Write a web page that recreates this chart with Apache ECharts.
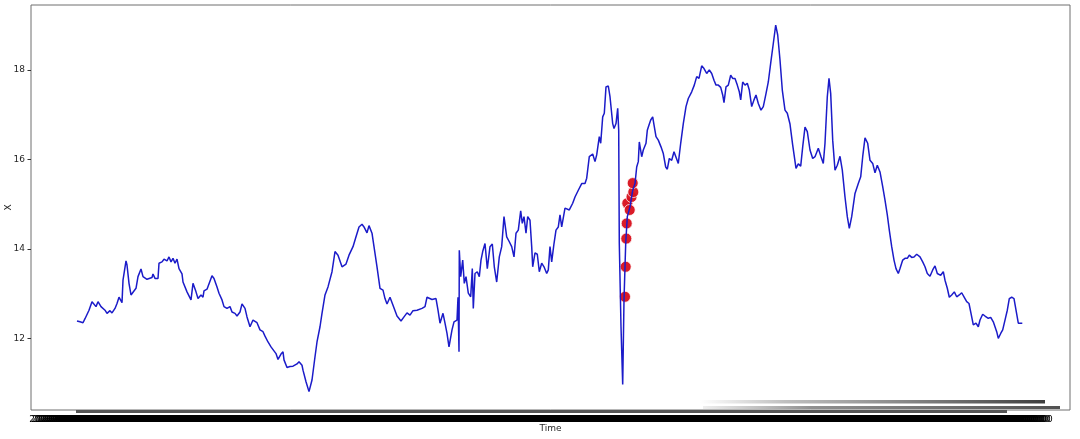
<!DOCTYPE html>
<html>
<head>
<meta charset="utf-8">
<script src="https://cdn.jsdelivr.net/npm/echarts@6/dist/echarts.min.js"></script>
<style>
html,body{margin:0;padding:0;background:#fff;}
#chart{width:1080px;height:439px;}
</style>
</head>
<body>
<div id="chart"></div>
<script>
// Time index (days from start) and X value
const lineSeries = [
[0,12.39],[3,12.37],[6,12.35],[8,12.44],[10,12.42],[12,12.63],[15,12.82],[17,12.78],[19,12.71],[21,12.82],[24,12.71],[26,12.74],[28,12.63],[30,12.56],[33,12.62],[35,12.57],[38,12.67],[40,12.78],[42,12.92],[45,12.80],[46,13.30],[49,13.73],[50,13.64],[52,13.23],[54,12.97],[56,13.01],[59,13.12],[61,13.38],[64,13.55],[66,13.38],[70,13.32],[72,13.29],[75,13.36],[76,13.44],[78,13.34],[81,13.34],[82,13.68],[85,13.71],[87,13.77],[90,13.73],[92,13.82],[94,13.71],[96,13.79],[98,13.68],[100,13.77],[102,13.56],[105,13.44],[106,13.26],[108,13.30],[110,13.04],[112,13.01],[114,12.86],[116,13.23],[119,13.04],[121,12.89],[124,12.97],[126,12.92],[127,13.06],[130,13.10],[132,13.14],[135,13.40],[137,13.34],[140,13.15],[142,13.01],[145,12.86],[147,12.71],[150,12.67],[153,12.71],[155,12.59],[158,12.56],[160,12.50],[163,12.59],[165,12.77],[168,12.67],[170,12.48],[173,12.26],[176,12.41],[178,12.42],[180,12.35],[183,12.19],[186,12.15],[188,12.05],[191,11.92],[194,11.81],[196,11.81],[199,11.66],[201,11.53],[204,11.65],[206,11.70],[207,11.52],[210,11.35],[213,11.37],[216,11.38],[220,11.43],[222,11.48],[225,11.40],[226,11.29],[229,11.03],[232,10.81],[235,11.07],[238,11.59],[240,11.92],[243,12.26],
[245,12.56],[248,12.97],[251,13.15],[255,13.49],[258,13.94],[261,13.86],[265,13.60],[269,13.66],[272,13.86],[276,14.05],[279,14.27],[282,14.49],[285,14.55],[287,14.49],[290,14.36],[292,14.52],[295,14.35],[297,14.05],[300,13.60],[303,13.12],[306,13.08],[308,12.89],[310,12.77],[313,12.92],[316,12.74],[320,12.50],[324,12.39],[327,12.48],[330,12.57],[333,12.52],[336,12.62],[340,12.63],[345,12.67],[348,12.71],[350,12.92],[355,12.87],[359,12.89],[361,12.63],[363,12.34],[366,12.56],[368,12.34],[370,12.11],[372,11.81],[375,12.19],[377,12.37],[380,12.41],[381,12.92],[382,11.70],[382.3,13.97],[383.7,13.38],[385.7,13.75],[387.3,13.23],[389,13.38],[391.3,13.01],[393.7,12.93],[395.3,13.56],[396.3,12.67],[398,13.45],[400.3,13.49],[402.3,13.38],[404,13.75],[405.7,13.94],[408,14.12],[410.3,13.56],[413,14.05],[415.3,14.11],[417.3,13.60],[419.7,13.26],[422.3,13.82],[424.7,14.05],[427,14.72],[429.7,14.27],[432.3,14.16],[434.7,14.05],[437,13.82],[439,14.35],[441.3,14.42],[443.7,14.85],[445.3,14.57],[447,14.72],[449,14.35],[450.7,14.72],[453,14.64],[454.7,14.05],[455.7,13.60],[458,13.91],[460.3,13.88],[462.3,13.49],[464.7,13.68],[467,13.60],[469.7,13.45],[471.3,13.53],[473,14.05],[474.7,13.71],[477,14.12],[479,14.42],[481.3,14.49],[483,14.76],
[484.7,14.49],[488,14.91],[492.3,14.87],[495.7,15.02],[498,15.16],[501.3,15.31],[504.7,15.46],[508,15.46],[509.7,15.58],[512.3,16.06],[515.7,16.12],[518,15.95],[519.7,16.10],[522.3,16.51],[523.7,16.36],[525.7,16.95],[527.3,17.03],[529,17.62],[531.3,17.64],[533,17.40],[535.7,16.80],[537,16.69],[539,16.80],[540.7,17.14],[541.7,16.65],[542.3,14.12],[544,12.26],[545.7,10.97],[547,12.86],[548.7,14.12],[550.3,14.72],[553,14.94],[555.7,15.31],[558,15.46],[559.7,15.83],[561.3,15.95],[562.3,16.39],[564.7,16.06],[566.3,16.21],[569,16.36],[570.3,16.65],[572,16.77],[573.7,16.88],[575.7,16.95],[577,16.77],[579,16.51],[581.3,16.43],[584,16.28],[586.3,16.13],[588.7,15.83],[590.3,15.78],[592.3,16.02],[594.7,15.98],[597,16.17],[599,16.21],[601.3,15.91],[603.7,16.36],[606.3,16.80],[609,17.18],[611.3,17.36],[614.7,17.51],[617.3,17.66],[619.7,17.85],[622,17.81],[624.7,18.09],[627,18.03],[629.7,17.92],[632.3,18.00],[634.7,17.92],[637,17.77],[639,17.66],[641.3,17.66],[643.7,17.61],[645.7,17.44],[647,17.27],[649,17.62],[651.3,17.66],[653.7,17.88],[655.7,17.81],[658,17.81],[660.3,17.66],[662.3,17.51],[663.7,17.33],[665.7,17.73],[668,17.66],[670.3,17.70],[672.3,17.55],[674.7,17.18],[677,17.33],[679,17.44],[681.3,17.25],[684,17.10],[686.3,17.18],[689,17.47],[691.3,17.73],[693.7,18.15],[696.3,18.59],[698.7,19.00],[700.7,18.78],[703,18.22],[705.3,17.55],[708,17.10],[710.3,17.03],[713,16.79],[715.7,16.32],[719,15.80],[721.3,15.90],[723.7,15.85],[725.7,16.28],[728,16.72],[730.3,16.62],[733,16.21],[735.7,16.02],[738,16.06],[741.3,16.25],[744,16.06],[746.3,15.91],[748,16.36],[750.3,17.40],[752,17.81],[753.7,17.47],[755.7,16.43],[758,15.76],[760.3,15.87],[763,16.07],[765.3,15.76],[768,15.16],[770.3,14.72],[772.3,14.46],[774.7,14.72],[778,15.24],[781.3,15.46],[783.7,15.61],[785.7,16.06],[788,16.48],[790.7,16.36],[793,15.98],[795.7,15.91],[798,15.70],[800.3,15.87],[803,15.72],[805.7,15.39],[808,15.09],[810.3,14.76],[812.3,14.42],[814.7,14.05],[817,13.75],[819,13.56],[821.3,13.45],[823,13.56],[825.7,13.75],[828,13.79],[830.3,13.79],[832.3,13.86],[834.7,13.81],[837,13.82],[839.7,13.88],[843,13.82],[845.7,13.71],[848,13.60],[850.3,13.45],[853,13.39],[855.7,13.53],[858,13.62],[860.3,13.45],[863.7,13.41],[866.3,13.49],[868,13.30],[870.3,13.12],[872.3,12.92],[874.7,12.97],[877.3,13.04],[879.7,12.93],[882.3,12.97],[884.7,13.02],[887,12.93],[889.7,12.82],[892,12.78],[894,12.56],[896.3,12.30],[899,12.34],[901.3,12.26],[903,12.41],[905.7,12.54],[908,12.50],[911.3,12.45],[913.7,12.47],[916.3,12.37],[918,12.26],[919.7,12.15],[921.3,12.00],[923.7,12.11],[925.7,12.19],[928,12.41],[930.3,12.63],[932.3,12.89],[934.7,12.92],[937,12.89],[939,12.87],[941.3,12.34],[943,12.30],[945.3,12.34]
];
// Highlighted points (red markers)
const markedPoints = [[548,12.93],[548.7,13.60],[549.3,14.23],[549.7,14.57],[550.3,15.02],[552.7,14.87],[554.5,15.16],[556.3,15.27],[555.7,15.47]];

// Axis settings
const yTicks = [12, 14, 16, 18];
const xRange = [-46, 993];
const yRange = [10.40, 19.45];
const xTickStart = -2, xTickEnd = 930;
const baseDate = Date.UTC(2020, 0, 1);
const xTicks = [];
for (let t = xTickStart; t <= xTickEnd; t += 1) xTicks.push(t);
const xLabelTicks = xTicks.filter((t, i) => i % 2 === 0);
function pad(n){return (n<10?'0':'')+n;}
function dateLabel(t){
  const d = new Date(baseDate + Math.round(t) * 86400000);
  return d.getUTCFullYear()+'-'+pad(d.getUTCMonth()+1)+'-'+pad(d.getUTCDate())+' 00:00:00';
}

const chart = echarts.init(document.getElementById('chart'), null, {renderer:'canvas'});
const font = 'DejaVu Sans';
chart.setOption({
  animation: false,
  backgroundColor: '#ffffff',
  grid: {left: 31, right: 10, top: 5, bottom: 29, containLabel: false, outerBoundsMode: 'none',
         show: true, borderColor: '#6e6e6e', borderWidth: 1, backgroundColor: 'transparent'},
  xAxis: {
    type: 'value', min: xRange[0], max: xRange[1],
    name: 'Time', nameLocation: 'middle', nameGap: 14, nameMoveOverlap: false,
    nameTextStyle: {fontFamily: font, fontSize: 9, color: '#262626'},
    axisLine: {show: false, onZero: false},
    splitLine: {show: false},
    axisTick: {show: true, customValues: xTicks, length: 3, lineStyle: {color: '#555', width: 1}},
    axisLabel: {show: true, customValues: xLabelTicks, hideOverlap: false, margin: 5, fontFamily: font, fontSize: 9, color: '#000', formatter: (v) => dateLabel(v)}
  },
  yAxis: {
    type: 'value', min: yRange[0], max: yRange[1],
    name: 'X', nameLocation: 'middle', nameGap: 18, nameRotate: 90, nameMoveOverlap: false,
    nameTextStyle: {fontFamily: font, fontSize: 9, color: '#262626'},
    axisLine: {show: false, onZero: false},
    splitLine: {show: false},
    axisTick: {show: true, customValues: yTicks, length: 3.5, lineStyle: {color: '#333'}},
    axisLabel: {show: true, customValues: yTicks, margin: 6, fontFamily: font, fontSize: 9, color: '#262626'}
  },
  series: [
    {type: 'scatter', data: markedPoints, symbolSize: 11, z: 2,
     itemStyle: {color: '#d8101c', opacity: 0.95, borderColor: '#ffffff', borderWidth: 0.8}},
    {type: 'line', data: lineSeries, showSymbol: false, z: 3,
     lineStyle: {color: '#1b1bc9', width: 1.5}}
  ],
  graphic: [
    {type: 'rect', silent: true, z: 1, shape: {x: 700, y: 400, width: 345, height: 3.5},
     style: {fill: new echarts.graphic.LinearGradient(0,0,1,0,[{offset:0,color:'rgba(70,70,70,0)'},{offset:0.25,color:'rgba(70,70,70,0.35)'},{offset:1,color:'rgba(40,40,40,0.9)'}])}},
    {type: 'rect', silent: true, z: 1, shape: {x: 703, y: 406, width: 357, height: 3},
     style: {fill: new echarts.graphic.LinearGradient(0,0,1,0,[{offset:0,color:'rgba(90,90,90,0.1)'},{offset:0.3,color:'rgba(70,70,70,0.6)'},{offset:1,color:'rgba(50,50,50,0.85)'}])}}
  ]
});
</script>
</body>
</html>
